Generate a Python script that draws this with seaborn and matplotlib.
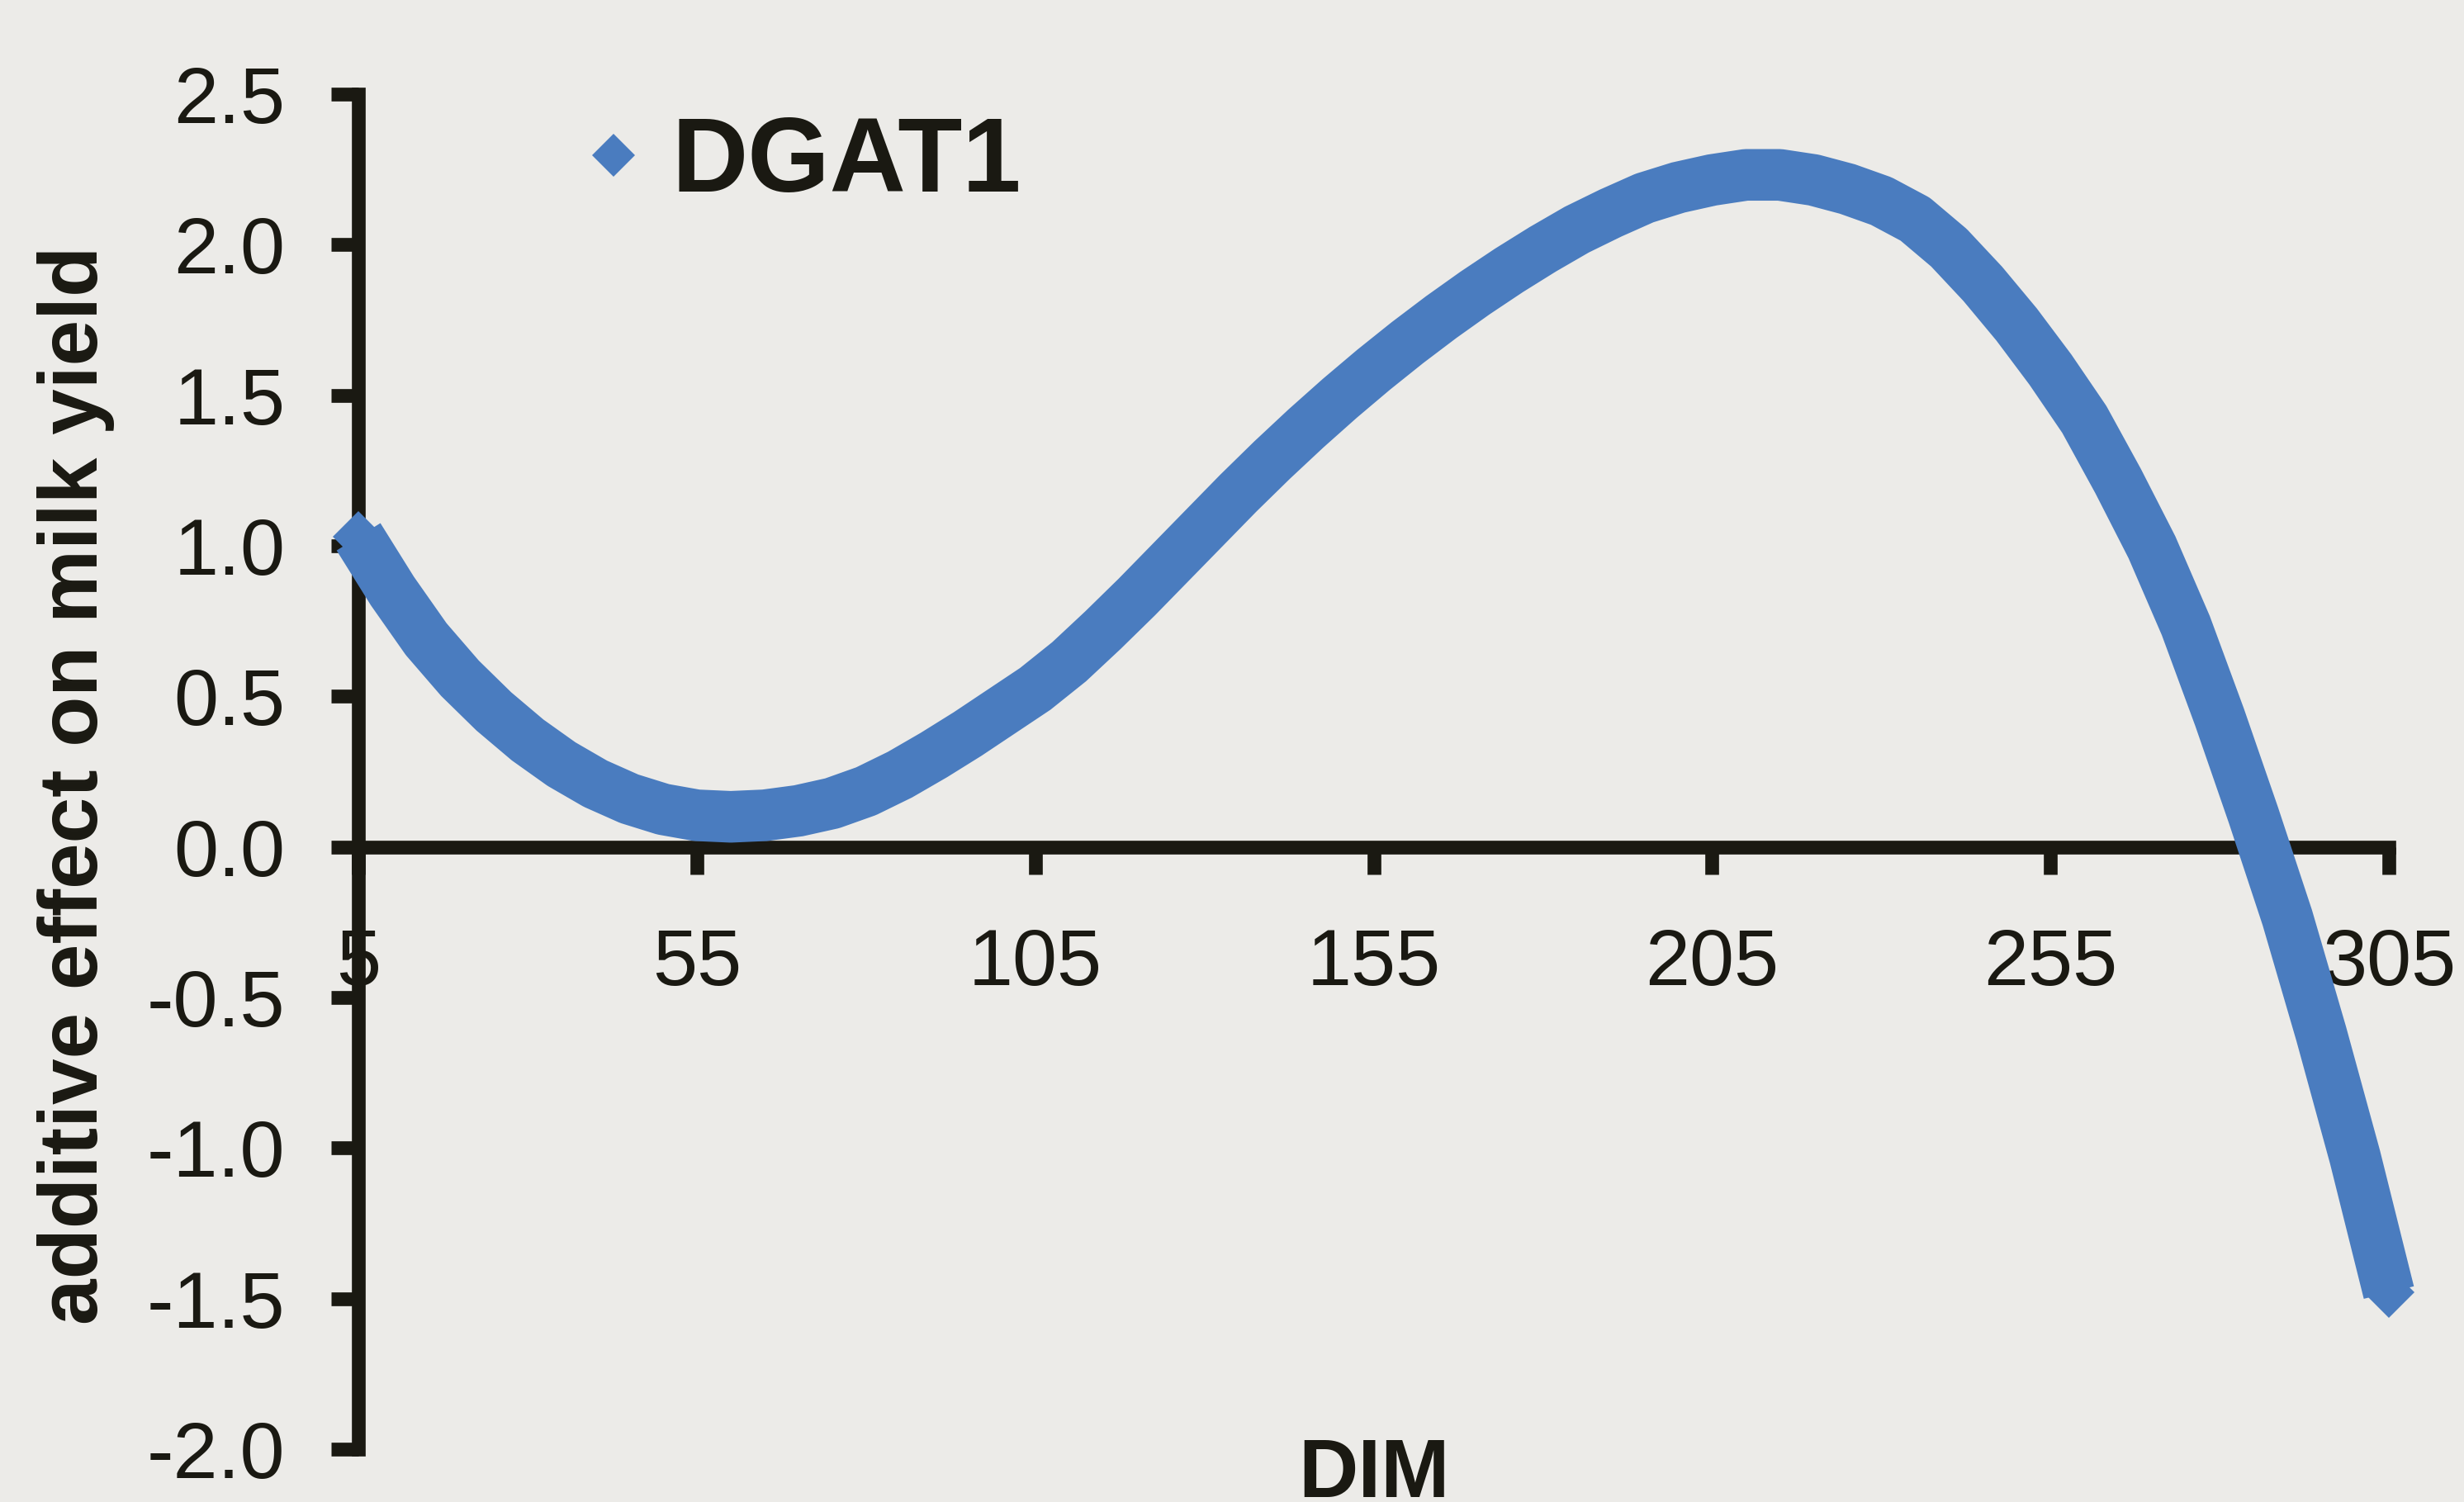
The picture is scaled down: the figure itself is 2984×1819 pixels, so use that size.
import matplotlib
matplotlib.use("Agg")
import matplotlib.pyplot as plt
from matplotlib.lines import Line2D
import seaborn as sns
import pandas as pd

# values (every 5 DIM)
dim = [5, 10, 15, 20, 25, 30, 35, 40, 45, 50, 55, 60, 65, 70, 75, 80, 85, 90,
       95, 100, 105, 110, 115, 120, 125, 130, 135, 140, 145, 150, 155, 160,
       165, 170, 175, 180, 185, 190, 195, 200, 205, 210, 215, 220, 225, 230,
       235, 240, 245, 250, 255, 260, 265, 270, 275, 280, 285, 290, 295, 300, 305]
effect = [1.03, 0.85, 0.69, 0.56, 0.45, 0.355, 0.275, 0.21, 0.16, 0.125, 0.105,
          0.10, 0.105, 0.12, 0.145, 0.185, 0.24, 0.305, 0.375, 0.45, 0.525,
          0.615, 0.72, 0.83, 0.945, 1.06, 1.175, 1.285, 1.39, 1.49, 1.585,
          1.675, 1.76, 1.84, 1.915, 1.985, 2.05, 2.105, 2.155, 2.19, 2.215,
          2.232, 2.232, 2.215, 2.185, 2.145, 2.085, 1.99, 1.87, 1.735, 1.585,
          1.42, 1.215, 0.995, 0.735, 0.43, 0.105, -0.235, -0.62, -1.03, -1.48]
x_ticks = [5, 55, 105, 155, 205, 255, 305]
y_ticks = [-2.0, -1.5, -1.0, -0.5, 0.0, 0.5, 1.0, 1.5, 2.0, 2.5]

df = pd.DataFrame({"DIM": dim, "effect": effect})

sns.set_theme(style="white")
plt.rcParams["font.family"] = ["Liberation Sans", "DejaVu Sans"]

bg = "#ecebe8"
ink = "#1a1912"
blue = "#4a7cbf"

fig = plt.figure(figsize=(29.84, 18.19), dpi=100, facecolor=bg)
ax = fig.add_axes([0.1455, 0.0352, 0.824, 0.9021])
ax.set_facecolor(bg)

sns.lineplot(data=df, x="DIM", y="effect", ax=ax, color=blue, linewidth=45,
             marker="D", markersize=32, markeredgewidth=0, legend=False,
             clip_on=False, solid_capstyle="butt", solid_joinstyle="round",
             zorder=3)

ax.set_xlim(5, 305)
ax.set_ylim(-2.0, 2.5)
ax.set_xticks(x_ticks)
ax.set_xticklabels([str(v) for v in x_ticks])
ax.set_yticks(y_ticks)
ax.set_yticklabels([f"{v:.1f}" for v in y_ticks])

for s in ["top", "right"]:
    ax.spines[s].set_visible(False)
ax.spines["bottom"].set_position(("data", 0))
for s in ["left", "bottom"]:
    ax.spines[s].set_linewidth(12)
    ax.spines[s].set_color(ink)
    ax.spines[s].set_capstyle("projecting")

ax.tick_params(axis="both", direction="out", length=24, width=12, color=ink,
               labelsize=70, labelcolor=ink, bottom=True, left=True)
ax.tick_params(axis="y", pad=40)
ax.tick_params(axis="x", pad=46)
ax.grid(False)

ax.set_xlabel("DIM", fontsize=72, fontweight="bold", color=ink)
ax.xaxis.set_label_coords(0.5, 0.009)
ax.set_ylabel("additive effect on milk yield", fontsize=72, fontweight="bold", color=ink)
ax.yaxis.set_label_coords(-0.120, 0.49)

handle = Line2D([], [], marker="D", linestyle="none", color=blue, markersize=26,
                markeredgewidth=0)
ax.legend(handles=[handle], labels=["DGAT1"], loc="center left",
          bbox_to_anchor=(0.058, 0.948), frameon=False, handletextpad=0.15,
          handlelength=0.8, prop={"size": 92, "weight": "bold"})
for t in ax.get_legend().get_texts():
    t.set_color(ink)

fig.savefig("out.png", dpi=100, facecolor=bg)
